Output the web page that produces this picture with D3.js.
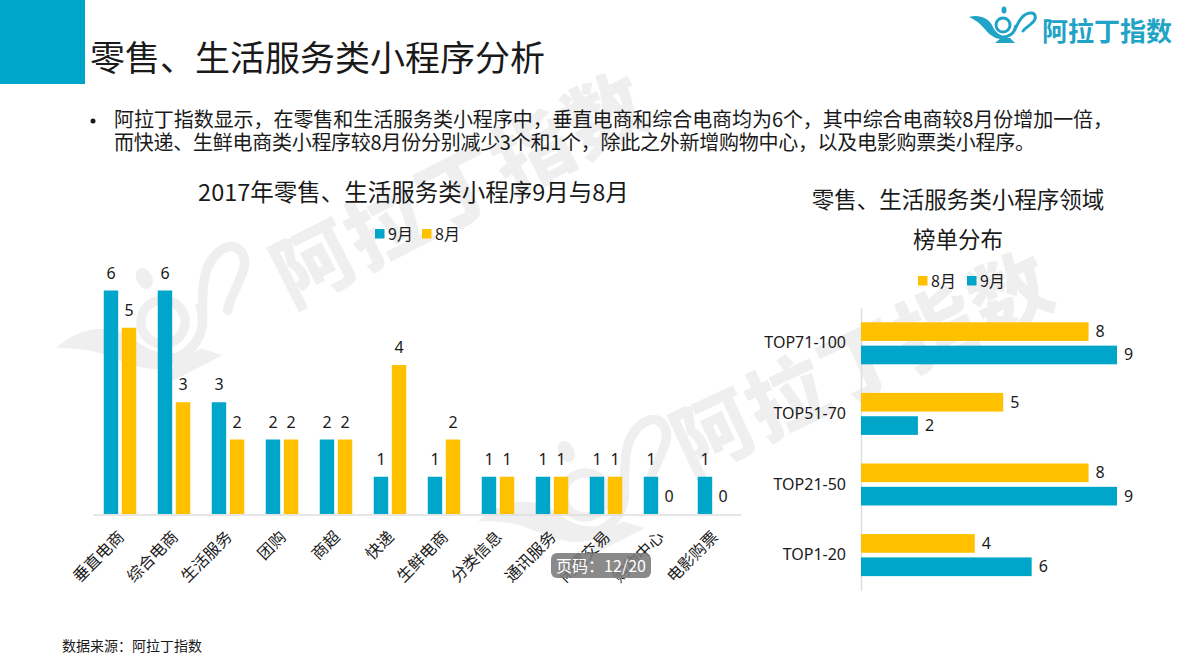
<!DOCTYPE html>
<html>
<head>
<meta charset="utf-8">
<script src="https://d3js.org/d3.v7.min.js"></script>
<style>
html,body { margin:0; padding:0; background:#fff; }
text { font-family:"Noto Sans CJK SC","Noto Sans",sans-serif; fill:#1a1a1a; }
.num { font-family:"Noto Sans","Noto Sans CJK SC",sans-serif; font-size:16px; }
.wm { font-weight:900; font-size:80px; fill:#efefef; }
</style>
</head>
<body>
<svg id="chart" width="1200" height="671"></svg>
<script>
// left chart
var categories = ["垂直电商","综合电商","生活服务","团购","商超","快递","生鲜电商","分类信息","通讯服务","闲置交易","购物中心","电影购票"];
var sep = [6,6,3,2,2,1,1,1,1,1,1,1];
var aug = [5,3,2,2,2,4,2,1,1,1,0,0];
// right chart, top to bottom
var ranks = ["TOP71-100","TOP51-70","TOP21-50","TOP1-20"];
var rankAug = [8,5,8,4];
var rankSep = [9,2,9,6];

var body1 = "阿拉丁指数显示，在零售和生活服务类小程序中，垂直电商和综合电商均为6个，其中综合电商较8月份增加一倍，";
var body2 = "而快递、生鲜电商类小程序较8月份分别减少3个和1个，除此之外新增购物中心，以及电影购票类小程序。";
var brand = ["阿","拉","丁","指","数"];

var teal = "#00a6ca", amber = "#ffc000", axisGrey = "#dedede";
var svg = d3.select("#chart");

// lamp logo, drawn around the ring centre
function lamp(g, color) {
	g.append("path").attr("fill", color)
		.attr("d", "M-34,-8 C-24,-11 -15,-7 -11,0 C-9,5 -5,10 1,11 L1,14 C-11,15 -16,6 -22,0 C-26,-4 -30,-6 -34,-8Z");
	g.append("circle").attr("r", 7).attr("fill", "none").attr("stroke", color).attr("stroke-width", 3);
	g.append("path").attr("fill", "none").attr("stroke", color).attr("stroke-width", 3)
		.attr("d", "M-3,12 C6,13 12,8 13,0");
	g.append("ellipse").attr("cx", 1).attr("cy", -15).attr("rx", 2.5).attr("ry", 3.5).attr("fill", color);
	g.append("path").attr("fill", color).attr("d", "M-8,18 L12,18 L7,13 L-2,13Z");
	g.append("path").attr("fill", "none").attr("stroke", color).attr("stroke-width", 3).attr("stroke-linecap", "round")
		.attr("d", "M12,4 C16,-4 20,-12 28,-12 C33,-12 34,-6 29,-2 C26,1 22,3 20,6");
}

// watermark first, everything else sits on top of it
function watermark(x, y, angle, lx, ly) {
	lamp(svg.append("g").attr("transform", "translate(" + lx + "," + ly + ") rotate(-27) scale(3.15)"), "#efefef");
	svg.append("text").attr("class", "wm")
		.attr("transform", "translate(" + x + "," + y + ") rotate(" + angle + ")")
		.selectAll("tspan").data(brand).join("tspan")
		.attr("x", function(d, i) { return i * 82; })
		.text(function(d) { return d; });
}
watermark(291, 308, -27, 163, 322);
watermark(689, 476, -25, 585, 495);

// header
svg.append("rect").attr("x", 0).attr("y", 0).attr("width", 85).attr("height", 84).attr("fill", teal);
svg.append("text").attr("x", 90).attr("y", 71).attr("font-size", 35).text("零售、生活服务类小程序分析");
svg.append("circle").attr("cx", 93).attr("cy", 121).attr("r", 2.5).attr("fill", "#1a1a1a");
svg.append("text").attr("x", 114).attr("y", 127).attr("font-size", 20).attr("textLength", 999).attr("lengthAdjust", "spacing").text(body1);
svg.append("text").attr("x", 114).attr("y", 150).attr("font-size", 20).attr("textLength", 921).attr("lengthAdjust", "spacing").text(body2);

// brand top right
lamp(svg.append("g").attr("transform", "translate(1003,25)"), "#1fa3c6");
svg.append("text").attr("x", 1042).attr("y", 41).attr("font-size", 26).attr("font-weight", 700)
	.style("fill", "#1fa3c6").text(brand.join(""));

// ---- left chart ----
svg.append("text").attr("x", 413.5).attr("y", 201).attr("text-anchor", "middle").attr("font-size", 23.5)
	.text("2017年零售、生活服务类小程序9月与8月");

function legendItem(x, y, color, label, size) {
	svg.append("rect").attr("x", x).attr("y", y).attr("width", size).attr("height", size).attr("fill", color);
	svg.append("text").attr("x", x + size + 3.5).attr("y", y + size + 1).attr("font-size", 16).text(label);
}
legendItem(375, 229, teal, "9月", 9.5);
legendItem(422, 229, amber, "8月", 9.5);

var x0 = d3.scaleBand().domain(categories).range([93, 741]);
var x1 = d3.scaleBand().domain(["sep", "aug"]).range([10.75, 43.25]).paddingInner(0.2);
var y = d3.scaleLinear().domain([0, 6]).range([514, 290.5]);

var xAxis = svg.append("g").attr("transform", "translate(0,514.5)")
	.call(d3.axisBottom(x0).tickSize(0));
xAxis.select(".domain").attr("stroke", axisGrey).attr("stroke-width", 1.5);
xAxis.selectAll("text")
	.attr("font-size", 16).attr("text-anchor", "end")
	.attr("dy", 0).attr("y", 0)
	.attr("transform", "translate(5,23.5) rotate(-45)")
	.style("font-family", "'Noto Sans CJK SC'").style("fill", "#1a1a1a");

var groups = [{key:"sep", values:sep, color:teal}, {key:"aug", values:aug, color:amber}];
groups.forEach(function(s) {
	var g = svg.append("g");
	g.selectAll("rect").data(s.values).join("rect")
		.attr("x", function(d, i) { return x0(categories[i]) + x1(s.key); })
		.attr("y", function(d) { return y(d); })
		.attr("width", x1.bandwidth())
		.attr("height", function(d) { return y(0) - y(d); })
		.attr("fill", s.color);
	g.selectAll("text").data(s.values).join("text")
		.attr("class", "num").attr("text-anchor", "middle")
		.attr("x", function(d, i) { return x0(categories[i]) + x1(s.key) + x1.bandwidth() / 2; })
		.attr("y", function(d) { return y(d) - 12; })
		.text(function(d) { return d; });
});

// ---- right chart ----
svg.append("text").attr("x", 958).attr("y", 208).attr("text-anchor", "middle").attr("font-size", 22.5).text("零售、生活服务类小程序领域");
svg.append("text").attr("x", 958).attr("y", 248).attr("text-anchor", "middle").attr("font-size", 22.5).text("榜单分布");
legendItem(918, 276, amber, "8月", 9.5);
legendItem(967, 276, teal, "9月", 9.5);

var yr0 = d3.scaleBand().domain(ranks).range([308, 590.4]);
var yr1 = d3.scaleBand().domain(["aug", "sep"]).range([14.3, 56.3]).paddingInner(0.2);
var xr = d3.scaleLinear().domain([0, 9]).range([861, 1117]);

var rAxis = svg.append("g").attr("transform", "translate(861,0)")
	.call(d3.axisLeft(yr0).tickSize(0).tickPadding(15));
rAxis.select(".domain").attr("stroke", axisGrey).attr("stroke-width", 1.5);
rAxis.selectAll("text").attr("font-size", 16)
	.style("font-family", "'Noto Sans'").style("fill", "#1a1a1a");

[{key:"aug", values:rankAug, color:amber}, {key:"sep", values:rankSep, color:teal}].forEach(function(s) {
	var g = svg.append("g");
	g.selectAll("rect").data(s.values).join("rect")
		.attr("x", xr(0))
		.attr("y", function(d, i) { return yr0(ranks[i]) + yr1(s.key); })
		.attr("width", function(d) { return xr(d) - xr(0); })
		.attr("height", yr1.bandwidth())
		.attr("fill", s.color);
	g.selectAll("text").data(s.values).join("text")
		.attr("class", "num")
		.attr("x", function(d) { return xr(d) + 7; })
		.attr("y", function(d, i) { return yr0(ranks[i]) + yr1(s.key) + yr1.bandwidth() / 2 + 5.5; })
		.text(function(d) { return d; });
});

// footer and page badge
svg.append("text").attr("x", 62).attr("y", 651).attr("font-size", 14).text("数据来源：阿拉丁指数");
svg.append("rect").attr("x", 551).attr("y", 553).attr("width", 100).attr("height", 25).attr("rx", 6)
	.attr("fill", "#7a7a7a").attr("fill-opacity", 0.88);
svg.append("text").attr("x", 601).attr("y", 571.5).attr("text-anchor", "middle").attr("font-size", 16)
	.style("fill", "#fff").text("页码：12/20");
</script>
</body>
</html>
